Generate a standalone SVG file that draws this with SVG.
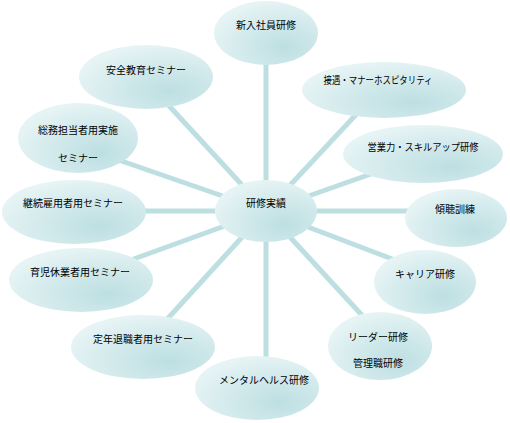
<svg xmlns="http://www.w3.org/2000/svg" width="510" height="423" viewBox="0 0 510 423">
<defs>
<radialGradient id="g" cx="0.68" cy="0.72" r="0.75" fx="0.68" fy="0.72">
<stop offset="0" stop-color="#bddfe2"/>
<stop offset="0.55" stop-color="#d3eaec"/>
<stop offset="1" stop-color="#e7f4f5"/>
</radialGradient>
<style>
.n{fill:url(#g);stroke:none}
.t{font-family:"Noto Sans CJK JP","Noto Sans CJK SC",sans-serif;font-size:10px;fill:#000;text-anchor:middle}
.c line{stroke:#bddfe2;stroke-width:5;stroke-linecap:butt}
</style>
</defs>
<rect width="510" height="423" fill="#fff"/>
<g id="connectors" class="c">
<line x1="266" y1="211" x2="266" y2="50"/>
<line x1="266" y1="211" x2="160" y2="96"/>
<line x1="266" y1="211" x2="110" y2="157"/>
<line x1="266" y1="211" x2="120" y2="211"/>
<line x1="266" y1="211" x2="120" y2="264"/>
<line x1="266" y1="211" x2="160" y2="327"/>
<line x1="266" y1="211" x2="266" y2="370"/>
<line x1="266" y1="211" x2="370" y2="324"/>
<line x1="266" y1="211" x2="400" y2="262"/>
<line x1="266" y1="211" x2="430" y2="211"/>
<line x1="266" y1="211" x2="385" y2="169"/>
<line x1="266" y1="211" x2="365" y2="105"/>
</g>
<g id="n-center"><ellipse class="n" cx="266" cy="211" rx="51" ry="31"/><text class="t" x="266" y="207">研修実績</text></g>
<g id="n-shinnyu"><ellipse class="n" cx="266" cy="33" rx="52" ry="32"/><text class="t" x="266" y="29">新入社員研修</text></g>
<g id="n-setsugu"><ellipse class="n" cx="384" cy="90" rx="82" ry="28"/><text class="t" x="378" y="84" textLength="109" lengthAdjust="spacingAndGlyphs">接遇・マナーホスピタリティ</text></g>
<g id="n-eigyo"><ellipse class="n" cx="423" cy="154" rx="80" ry="29"/><text class="t" x="423" y="151" textLength="111" lengthAdjust="spacingAndGlyphs">営業力・スキルアップ研修</text></g>
<g id="n-keicho"><ellipse class="n" cx="456" cy="218" rx="51" ry="29"/><text class="t" x="455" y="213">傾聴訓練</text></g>
<g id="n-career"><ellipse class="n" cx="425" cy="282" rx="51" ry="32"/><text class="t" x="425" y="278">キャリア研修</text></g>
<g id="n-leader"><ellipse class="n" cx="380" cy="346" rx="52" ry="34"/><text class="t" x="378" y="341">リーダー研修</text><text class="t" x="378" y="367">管理職研修</text></g>
<g id="n-mental"><ellipse class="n" cx="257" cy="388" rx="62" ry="32"/><text class="t" x="264" y="384">メンタルヘルス研修</text></g>
<g id="n-teinen"><ellipse class="n" cx="143" cy="347" rx="72" ry="32"/><text class="t" x="143" y="343">定年退職者用セミナー</text></g>
<g id="n-ikuji"><ellipse class="n" cx="81" cy="280" rx="72" ry="32"/><text class="t" x="80" y="276">育児休業者用セミナー</text></g>
<g id="n-keizoku"><ellipse class="n" cx="74" cy="212" rx="72" ry="32"/><text class="t" x="73" y="207">継続雇用者用セミナー</text></g>
<g id="n-somu"><ellipse class="n" cx="78" cy="138" rx="60" ry="35"/><text class="t" x="78" y="134">総務担当者用実施</text><text class="t" x="78" y="162">セミナー</text></g>
<g id="n-anzen"><ellipse class="n" cx="146" cy="77" rx="67" ry="32"/><text class="t" x="146" y="74">安全教育セミナー</text></g>
</svg>
